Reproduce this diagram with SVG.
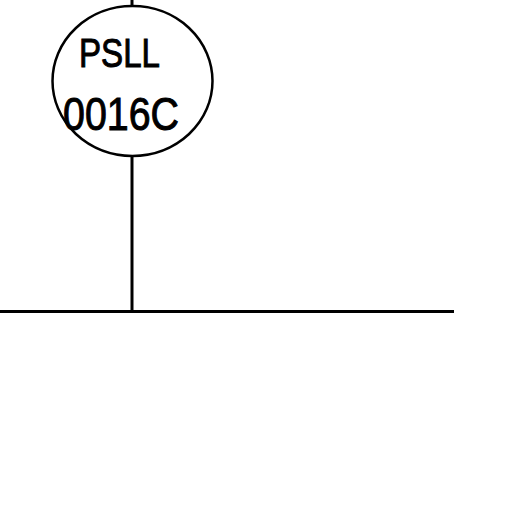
<svg xmlns="http://www.w3.org/2000/svg" width="512" height="512" viewBox="0 0 512 512">
<style>
.ln{stroke:#000;stroke-width:3;fill:none}
.nd{stroke:#000;stroke-width:2.5;fill:#fff}
.tx{font-family:"Liberation Sans","DejaVu Sans",sans-serif;fill:#000;stroke:#000;stroke-width:1}
</style>
<rect width="512" height="512" fill="#fff"/>
<g id="connectors">
<line class="ln" x1="132" y1="0" x2="132" y2="6"/>
<line class="ln" x1="132" y1="156" x2="132" y2="311"/>
<line class="ln" x1="0" y1="311.5" x2="454" y2="311.5"/>
</g>
<g id="node-psll">
<ellipse class="nd" cx="132.5" cy="81" rx="80" ry="75"/>
<text class="tx" x="79" y="67" font-size="41" textLength="81" lengthAdjust="spacingAndGlyphs">PSLL</text>
<text class="tx" x="63" y="130" font-size="46" textLength="116" lengthAdjust="spacingAndGlyphs">0016C</text>
</g>
</svg>
